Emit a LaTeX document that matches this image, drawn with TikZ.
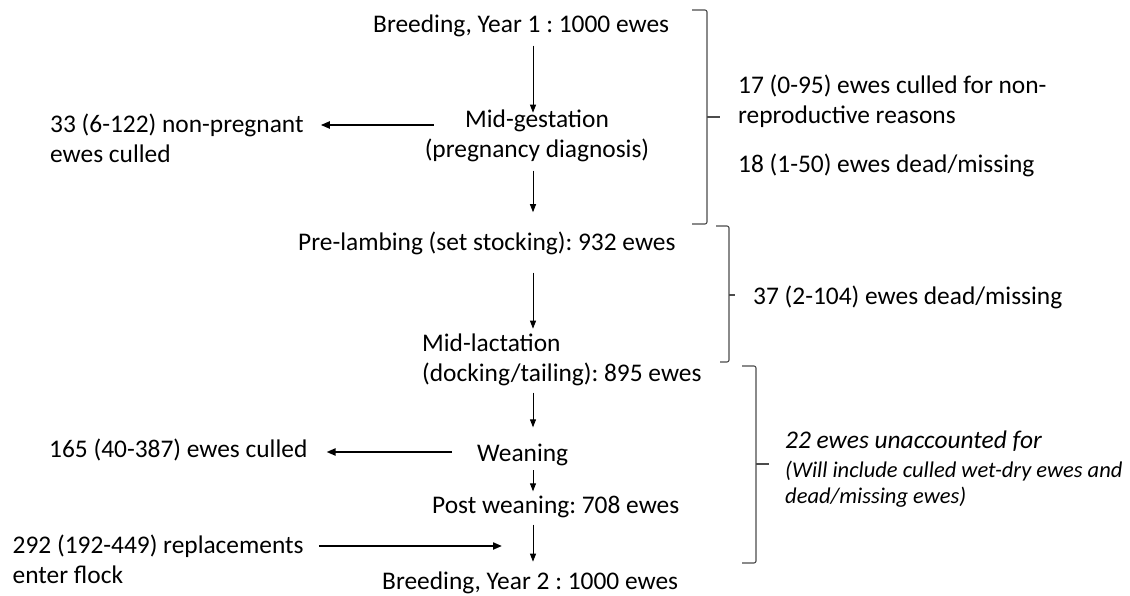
\documentclass[tikz,border=0pt]{standalone}
\usepackage{fontspec}
\setmainfont{Carlito}
\usetikzlibrary{arrows.meta}
\frenchspacing
\begin{document}
\begin{tikzpicture}[x=1pt,y=1pt,
  txt/.style={inner sep=0pt, font=\fontsize{25.4}{30}\selectfont, anchor=base west},
  ctxt/.style={inner sep=0pt, font=\fontsize{25.4}{30.5}\selectfont, anchor=base, align=center},
  itxt/.style={inner sep=0pt, font=\fontsize{25.4}{30}\selectfont\itshape, anchor=base west},
  stxt/.style={inner sep=0pt, font=\fontsize{22.5}{26}\selectfont\itshape, anchor=base west, align=left},
  varrow/.style={-{Triangle[length=8pt,width=6pt]}, line width=0.9pt},
  harrow/.style={-{Triangle[length=9pt,width=7pt]}, line width=2pt},
  bracket/.style={draw=black!70, line width=1.1pt, rounded corners=2pt}]
\path[use as bounding box] (0,0) rectangle (1130,-596);
% main column (multi-line nodes: base = baseline of last line)
\node[txt] (b1) at (373,-33) {Breeding, Year 1 : 1000 ewes};
\node[ctxt] (mg) at (537,-158) {Mid-gestation\\(pregnancy diagnosis)};
\node[txt] (pl) at (298,-251) {Pre-lambing (set stocking): 932 ewes};
\node[txt, align=left] (ml) at (422,-381) {Mid-lactation\\(docking/tailing): 895 ewes};
\node[txt] (wn) at (477,-461) {Weaning};
\node[txt] (pw) at (432,-513) {Post weaning: 708 ewes};
\node[txt] (b2) at (382,-589) {Breeding, Year 2 : 1000 ewes};
% left labels
\node[txt, align=left] (np) at (50,-163) {33 (6-122) non-pregnant\\ewes culled};
\node[txt] (cl) at (49,-457) {165 (40-387) ewes culled};
\node[txt, align=left] (rp) at (12.5,-583) {292 (192-449) replacements\\enter flock};
% right labels
\node[txt, align=left] (r1) at (738,-124) {17 (0-95) ewes culled for non-\\reproductive reasons};
\node[txt] (r2) at (738,-173) {18 (1-50) ewes dead/missing};
\node[txt] (r3) at (753,-304) {37 (2-104) ewes dead/missing};
\node[itxt] (r4) at (785,-448) {22 ewes unaccounted for};
\node[stxt] (r5) at (785,-503) {(Will include culled wet-dry ewes and\\dead/missing ewes)};
% helper coordinates
\coordinate (ax) at (533,0);
\coordinate (h1) at (0,-125);
\coordinate (h2) at (0,-452);
\coordinate (h3) at (0,-546);
% vertical arrows
\draw[varrow, shorten <=8pt, shorten >=-3pt] (b1.south -| ax) -- (mg.north -| ax);
\draw[varrow, shorten <=8pt, shorten >=20pt] (mg.south -| ax) -- (pl.north -| ax);
\draw[varrow, shorten <=17pt, shorten >=4.5pt] (pl.south -| ax) -- (ml.north -| ax);
\draw[varrow, shorten <=7pt, shorten >=16pt] (ml.south -| ax) -- (wn.north -| ax);
\draw[varrow, shorten <=4.7pt, shorten >=4pt] (wn.south -| ax) -- (pw.north -| ax);
\draw[varrow, shorten <=7pt, shorten >=9.5pt] (pw.south -| ax) -- (b2.north -| ax);
% horizontal arrows
\draw[harrow, shorten <=-9pt, shorten >=17pt] (mg.west |- h1) -- (np.east |- h1);
\draw[harrow, shorten <=25pt, shorten >=19pt] (wn.west |- h2) -- (cl.east |- h2);
\draw[harrow, shorten <=15pt, shorten >=31pt] (rp.east |- h3) -- (ax |- h3);
% brackets
\draw[bracket] (692,-10) -- (707,-10) -- (707,-224) -- (692,-224);
\draw[bracket] (707,-117) -- (720,-117);
\draw[bracket] (716,-226) -- (729,-226) -- (729,-362) -- (720,-362);
\draw[bracket] (729,-295) -- (735,-295);
\draw[bracket] (742,-366) -- (756,-366) -- (756,-563) -- (742,-563);
\draw[bracket] (756,-464) -- (769,-464);
\end{tikzpicture}
\end{document}
